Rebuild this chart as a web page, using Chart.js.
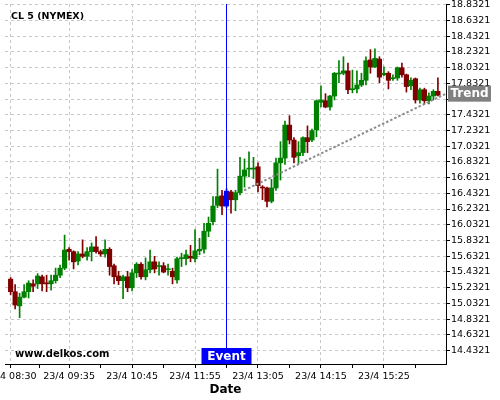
<!DOCTYPE html>
<html>
<head>
<meta charset="utf-8">
<script src="https://cdn.jsdelivr.net/npm/chart.js@4.4.1/dist/chart.umd.min.js"></script>
<style>
    html, body { margin: 0; padding: 0; background: #fff; }
    #grafico { display: block; }
</style>
</head>
<body>
<canvas id="grafico" width="500" height="400"></canvas>
<script>
// Velas de 5 minutos, indice 0 = 23/4 08:30
const apertura = [
    15.34, 15.18, 15.00, 15.11, 15.18, 15.28, 15.28, 15.37, 15.29, 15.28, 15.32, 15.39,
    15.48, 15.72, 15.69, 15.57, 15.66, 15.63, 15.69, 15.75, 15.69, 15.66, 15.72, 15.51,
    15.38, 15.32, 15.37, 15.23, 15.42, 15.53, 15.37, 15.46, 15.56, 15.50, 15.51, 15.46,
    15.44, 15.33, 15.60, 15.60, 15.63, 15.60, 15.70, 15.72, 15.95, 16.07, 16.28, 16.40,
    16.27, 16.45, 16.35, 16.44, 16.65, 16.74, 16.74, 16.77, 16.51, 16.50, 16.33, 16.50,
    16.82, 16.88, 17.30, 17.11, 16.91, 16.95, 17.14, 17.11, 17.24, 17.59, 17.61, 17.53,
    17.67, 17.95, 17.96, 17.99, 17.75, 17.76, 17.81, 17.87, 18.13, 18.04, 18.14, 17.94,
    17.96, 17.89, 17.90, 18.03, 17.94, 17.80, 17.89, 17.62, 17.75, 17.61, 17.67, 17.73
];
const maximo = [
    15.36, 15.27, 15.16, 15.27, 15.32, 15.33, 15.41, 15.39, 15.39, 15.39, 15.48, 15.52,
    15.90, 15.74, 15.70, 15.69, 15.84, 15.74, 15.80, 15.88, 15.71, 15.84, 15.74, 15.53,
    15.44, 15.39, 15.44, 15.46, 15.55, 15.55, 15.61, 15.71, 15.63, 15.56, 15.55, 15.53,
    15.48, 15.62, 15.67, 15.71, 15.77, 15.97, 15.86, 16.05, 16.13, 16.39, 16.74, 16.47,
    16.49, 16.47, 16.47, 16.89, 16.87, 16.96, 16.89, 16.82, 16.53, 16.51, 16.61, 16.88,
    17.09, 17.35, 17.42, 17.14, 17.09, 17.15, 17.29, 17.25, 17.62, 17.80, 17.70, 17.68,
    17.97, 18.12, 18.17, 18.09, 18.00, 17.99, 17.96, 18.17, 18.26, 18.27, 18.17, 18.04,
    17.98, 17.94, 18.04, 18.09, 17.95, 17.90, 17.90, 17.77, 17.77, 17.71, 17.75, 17.90
];
const minimo = [
    15.14, 14.96, 14.85, 15.10, 15.10, 15.18, 15.22, 15.19, 15.18, 15.20, 15.29, 15.36,
    15.46, 15.58, 15.47, 15.52, 15.61, 15.58, 15.57, 15.67, 15.63, 15.62, 15.39, 15.28,
    15.27, 15.09, 15.18, 15.19, 15.36, 15.34, 15.33, 15.42, 15.42, 15.39, 15.42, 15.39,
    15.28, 15.29, 15.50, 15.52, 15.56, 15.56, 15.65, 15.67, 15.88, 16.03, 16.25, 16.16,
    16.25, 16.18, 16.21, 16.41, 16.51, 16.64, 16.62, 16.45, 16.35, 16.26, 16.31, 16.47,
    16.60, 16.80, 17.06, 16.82, 16.81, 16.91, 16.95, 17.09, 17.15, 17.53, 17.52, 17.49,
    17.62, 17.84, 17.94, 17.70, 17.71, 17.71, 17.79, 17.81, 17.96, 18.03, 17.84, 17.93,
    17.76, 17.87, 17.87, 17.91, 17.72, 17.75, 17.58, 17.58, 17.57, 17.57, 17.62, 17.67
];
const cierre = [
    15.18, 15.01, 15.11, 15.18, 15.29, 15.25, 15.38, 15.28, 15.28, 15.32, 15.39, 15.48,
    15.71, 15.69, 15.56, 15.66, 15.63, 15.69, 15.75, 15.69, 15.66, 15.72, 15.50, 15.37,
    15.32, 15.37, 15.23, 15.42, 15.53, 15.37, 15.46, 15.56, 15.47, 15.51, 15.43, 15.47,
    15.37, 15.60, 15.61, 15.65, 15.61, 15.70, 15.72, 15.95, 16.05, 16.27, 16.39, 16.27,
    16.46, 16.35, 16.44, 16.65, 16.73, 16.75, 16.75, 16.53, 16.50, 16.33, 16.50, 16.82,
    16.88, 17.30, 17.11, 16.89, 16.95, 17.14, 17.09, 17.23, 17.61, 17.62, 17.53, 17.67,
    17.96, 17.96, 17.99, 17.75, 17.76, 17.81, 17.87, 18.12, 18.04, 18.15, 17.91, 17.96,
    17.87, 17.90, 18.03, 17.94, 17.79, 17.87, 17.62, 17.75, 17.61, 17.67, 17.73, 17.68
];

// Etiquetas del eje X (posicion = indice de vela)
const posEtiquetasX = [0, 13, 27, 41, 55, 69, 83];
const etiquetasX = ['23/4 08:30', '23/4 09:35', '23/4 10:45', '23/4 11:55', '23/4 13:05', '23/4 14:15', '23/4 15:25'];

// Marcas del eje Y
const marcasY = [
    14.4321, 14.6321, 14.8321, 15.0321, 15.2321, 15.4321, 15.6321, 15.8321,
    16.0321, 16.2321, 16.4321, 16.6321, 16.8321, 17.0321, 17.2321, 17.4321,
    17.6321, 17.8321, 18.0321, 18.2321, 18.4321, 18.6321, 18.8321
];

// Evento y linea de tendencia
const indiceEvento = 48;
const tendenciaX = [51.9, 96.8];
const tendenciaY = [16.47, 17.70];

const VERDE = '#008000';
const ROJO = '#800000';
const AZUL = '#0000ff';
const Y_MIN = 14.26;
const Y_MAX = 18.841;

Chart.defaults.font.family = '"DejaVu Sans", sans-serif';

const colores = apertura.map((o, i) => i === indiceEvento ? AZUL : (cierre[i] >= o ? VERDE : ROJO));
const cuerpos = apertura.map((o, i) => ({ x: i, y: [Math.min(o, cierre[i]), Math.max(o, cierre[i])] }));
const mechas = apertura.map((o, i) => ({ x: i, y: [minimo[i], maximo[i]] }));

// Color de la rejilla solo en las marcas principales
const colorRejilla = (c) => (c.tick && c.tick.major) ? '#c8c8c8' : 'rgba(0,0,0,0)';

// Textos sueltos: titulo, marca de agua, etiquetas de evento y tendencia
const textos = {
    id: 'textos',
    afterDraw(chart) {
        const { ctx, chartArea, scales } = chart;
        ctx.save();
        ctx.fillStyle = '#000';
        ctx.textBaseline = 'alphabetic';
        ctx.font = 'bold 9.5px "DejaVu Sans"';
        ctx.fillText('CL 5 (NYMEX)', 11, 19);
        ctx.font = 'bold 10px "DejaVu Sans"';
        ctx.fillText('www.delkos.com', 15, 357);

        const xe = scales.x.getPixelForValue(indiceEvento);
        ctx.fillStyle = AZUL;
        ctx.fillRect(xe - 25, chartArea.bottom - 16, 50, 16);
        ctx.fillStyle = '#fff';
        ctx.font = 'bold 12px "DejaVu Sans"';
        ctx.textAlign = 'center';
        ctx.textBaseline = 'middle';
        ctx.fillText('Event', xe, chartArea.bottom - 7.5);

        const yt = scales.y.getPixelForValue(tendenciaY[1]);
        ctx.fillStyle = '#808080';
        ctx.fillRect(chartArea.right + 2, yt - 8, 43, 16);
        ctx.fillStyle = '#fff';
        ctx.fillText('Trend', chartArea.right + 23.5, yt + 0.5);
        ctx.restore();
    }
};

const ctxGrafico = document.getElementById('grafico');
new Chart(ctxGrafico, {
    type: 'bar',
    data: {
        datasets: [
            {
                type: 'line',
                data: [{ x: indiceEvento, y: Y_MIN }, { x: indiceEvento, y: Y_MAX }],
                borderColor: AZUL,
                borderWidth: 1,
                pointRadius: 0,
                fill: false
            },
            {
                type: 'line',
                data: [{ x: tendenciaX[0], y: tendenciaY[0] }, { x: tendenciaX[1], y: tendenciaY[1] }],
                borderColor: '#8c8c8c',
                borderWidth: 2,
                borderDash: [2.5, 2],
                pointRadius: 0,
                fill: false
            },
            {
                data: cuerpos,
                backgroundColor: colores,
                barThickness: 4.5,
                minBarLength: 1,
                grouped: false,
                borderWidth: 0
            },
            {
                data: mechas,
                backgroundColor: colores,
                barThickness: 1,
                grouped: false,
                borderWidth: 0
            }
        ]
    },
    options: {
        responsive: false,
        animation: false,
        devicePixelRatio: 1,
        layout: { padding: { left: 5, top: 4, right: 0, bottom: 0 } },
        plugins: {
            legend: { display: false },
            tooltip: { enabled: false }
        },
        scales: {
            x: {
                type: 'linear',
                min: -1.25,
                max: 96.8,
                offset: false,
                grid: { offset: false, color: colorRejilla, tickColor: '#000', tickLength: 4 },
                border: { color: '#000', width: 1, dash: [3, 3] },
                ticks: {
                    autoSkip: false,
                    maxRotation: 0,
                    padding: 3,
                    color: '#000',
                    font: { size: 9.5 },
                    callback: (v) => {
                        const k = posEtiquetasX.indexOf(v);
                        return k >= 0 ? etiquetasX[k] : '';
                    }
                },
                title: {
                    display: true,
                    text: 'Date',
                    color: '#000',
                    font: { size: 12, weight: 'bold' },
                    padding: { top: 0, bottom: 3 }
                },
                afterBuildTicks: (eje) => {
                    const marcas = [];
                    posEtiquetasX.forEach((p, k) => {
                        marcas.push({ value: p, major: true });
                        const sig = k < posEtiquetasX.length - 1 ? posEtiquetasX[k + 1] : p + 14;
                        marcas.push({ value: (p + sig) / 2 });
                    });
                    eje.ticks = marcas;
                },
                afterFit: (eje) => {
                    eje.height = 36;
                    eje.paddingLeft = 0;
                    eje.paddingRight = 0;
                }
            },
            y: {
                position: 'right',
                min: Y_MIN,
                max: Y_MAX,
                grid: { color: colorRejilla, tickColor: '#000', tickLength: 4 },
                border: { color: '#000', width: 1, dash: [3, 3] },
                ticks: {
                    padding: 1,
                    color: '#000',
                    font: { size: 9.5 },
                    callback: (v, i, t) => t[i].major ? v.toFixed(4) : ''
                },
                afterBuildTicks: (eje) => {
                    const marcas = [];
                    marcasY.forEach((m, k) => {
                        marcas.push({ value: m, major: true });
                        if (k < marcasY.length - 1) marcas.push({ value: (m + marcasY[k + 1]) / 2 });
                    });
                    eje.ticks = marcas;
                },
                afterFit: (eje) => {
                    eje.width = 54;
                    eje.paddingTop = 0;
                    eje.paddingBottom = 0;
                }
            }
        }
    },
    plugins: [textos]
});
</script>
</body>
</html>
